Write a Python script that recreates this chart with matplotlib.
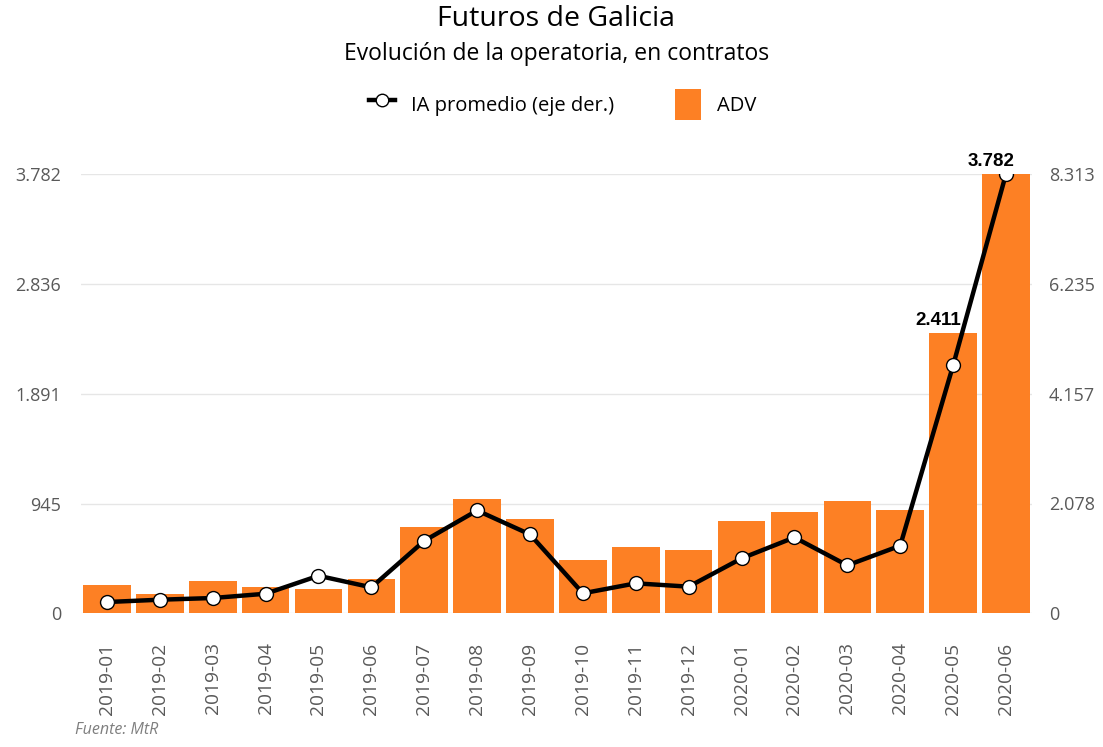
import matplotlib.pyplot as plt
from matplotlib.ticker import FuncFormatter
from matplotlib.lines import Line2D
from matplotlib.patches import Patch

# Datos
meses = ['2019-01', '2019-02', '2019-03', '2019-04', '2019-05', '2019-06',
         '2019-07', '2019-08', '2019-09', '2019-10', '2019-11', '2019-12',
         '2020-01', '2020-02', '2020-03', '2020-04', '2020-05', '2020-06']
adv = [246, 163, 277, 226, 209, 295, 747, 982, 810, 455, 573, 545,
       796, 876, 968, 891, 2411, 3782]
ia_promedio = [213, 257, 289, 370, 710, 491, 1371, 1946, 1492, 378, 567, 504,
               1039, 1436, 907, 1279, 4690, 8313]
ticks_izq = [0, 945, 1891, 2836, 3782]
ticks_der = [0, 2078, 4157, 6235, 8313]
etiquetas = {16: '2.411', 17: '3.782'}

naranja = '#FD8024'
gris = '#595959'

plt.rcParams['font.family'] = ['Open Sans', 'DejaVu Sans']


def miles(v, pos=None):
    return f'{int(round(v)):,}'.replace(',', '.')


fig = plt.figure(figsize=(11.03, 7.47), dpi=100)
ax = fig.add_axes([0.073, 0.179, 0.863, 0.588])
ax2 = ax.twinx()

x = list(range(len(meses)))
ax.bar(x, adv, width=0.9, color=naranja, zorder=2)
ax2.plot(x, ia_promedio, color='black', linewidth=3.2, marker='o', markersize=10,
         markerfacecolor='white', markeredgecolor='black', markeredgewidth=1.0,
         zorder=3)

for i, txt in etiquetas.items():
    ax.annotate(txt, (x[i], adv[i]), xytext=(-11, 3), textcoords='offset points',
                ha='center', va='bottom', fontsize=13.5, fontweight='bold',
                family=['Liberation Sans', 'DejaVu Sans'], zorder=5)

ax.set_xlim(-0.5, len(meses) - 0.5)
ax.set_ylim(0, ticks_izq[-1])
ax2.set_ylim(0, ticks_der[-1])
ax.set_yticks(ticks_izq)
ax2.set_yticks(ticks_der)
ax.yaxis.set_major_formatter(FuncFormatter(miles))
ax2.yaxis.set_major_formatter(FuncFormatter(miles))
ax.set_xticks(x)
ax.set_xticklabels(meses, rotation=90)

ax.grid(axis='y', color='#e6e6e6', linewidth=1, zorder=0)
ax.set_axisbelow(True)
for a in (ax, ax2):
    for s in a.spines.values():
        s.set_visible(False)
    a.tick_params(length=0, colors=gris, labelsize=13)
ax.tick_params(axis='y', pad=14)
ax2.tick_params(axis='y', pad=12)
ax.tick_params(axis='x', pad=21, labelsize=13.8)
ax.set_zorder(ax2.get_zorder() - 1)
ax.patch.set_visible(False)

fig.text(0.504, 0.975, 'Futuros de Galicia', ha='center', va='center', fontsize=20.5)
fig.text(0.5045, 0.928, 'Evolución de la operatoria, en contratos', ha='center',
         va='center', fontsize=16.5)

handles = [Line2D([], [], color='black', linewidth=3.2, marker='o', markersize=9,
                  markerfacecolor='white', markeredgecolor='black'),
           Patch(facecolor=naranja, edgecolor='none')]
fig.legend(handles, ['IA promedio (eje der.)', 'ADV'], loc='center',
           bbox_to_anchor=(0.51, 0.86), ncol=2, frameon=False, fontsize=14.5,
           handlelength=1.3, handleheight=2.0, columnspacing=3.0, handletextpad=0.8)

fig.text(0.068, 0.012, 'Fuente: MtR', ha='left', va='bottom', fontsize=11.5,
         style='italic', color='#7f7f7f')

fig.savefig('out.png', dpi=100)
